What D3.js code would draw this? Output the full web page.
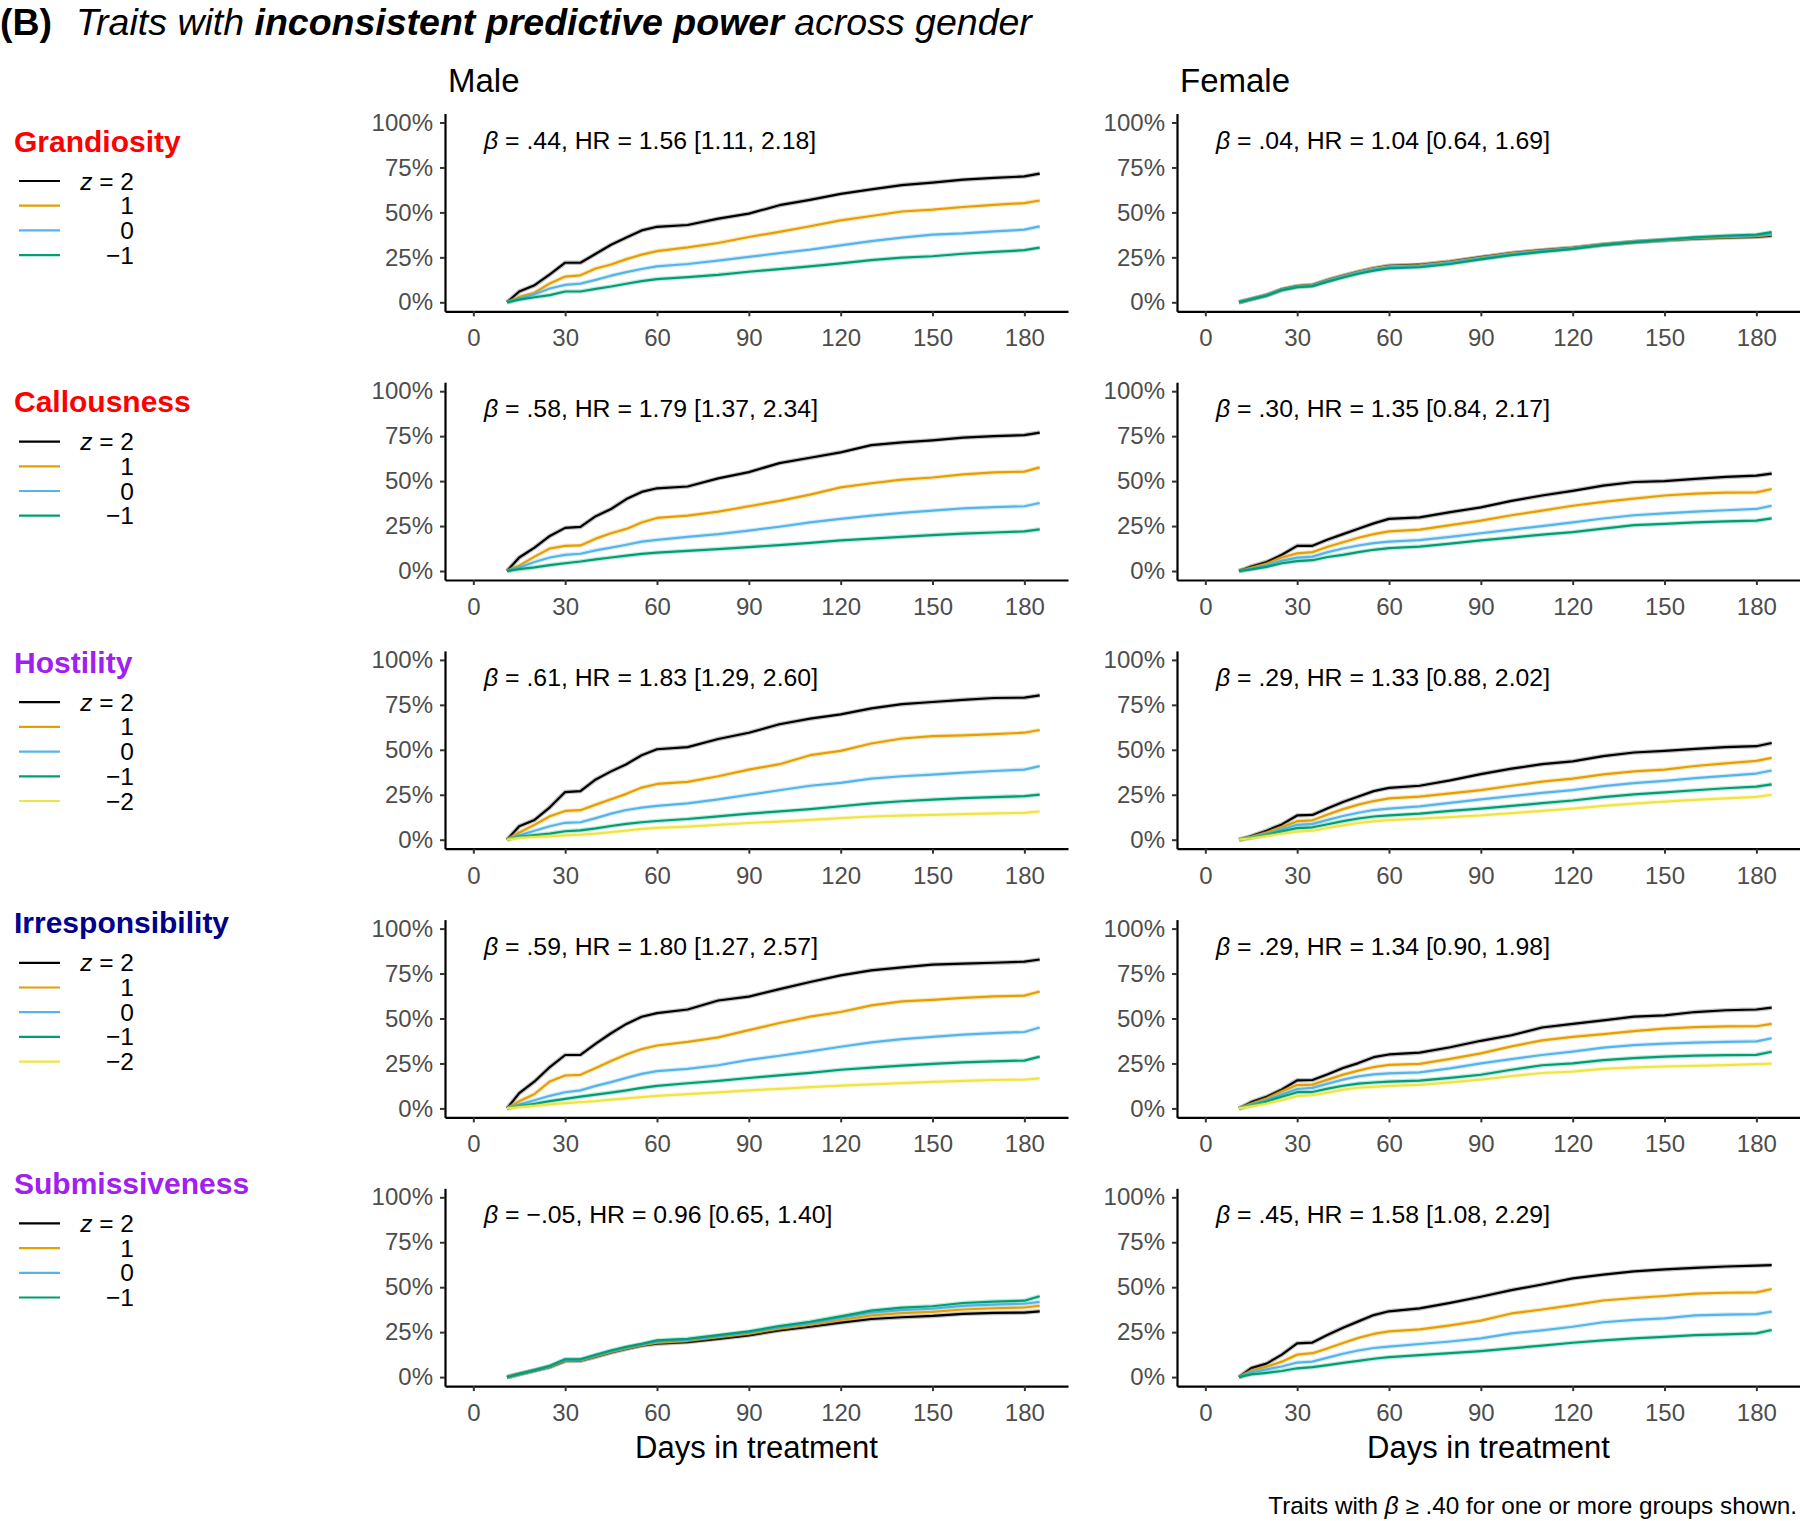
<!DOCTYPE html>
<html><head><meta charset="utf-8">
<script src="https://cdn.jsdelivr.net/npm/d3@7"></script>
<style>
body{margin:0;background:#fff;}
svg text{font-family:"Liberation Sans",Arial,Helvetica,sans-serif;}
</style></head>
<body><svg id="chart" width="1800" height="1521"></svg>
<script>
// ---------- DATA ----------
const DAYS = [11,15,20,25,30,35,40,45,50,55,60,70,80,90,100,110,120,130,140,150,160,170,180,185];
const TRAITS = ["Grandiosity","Callousness","Hostility","Irresponsibility","Submissiveness"];
const TRAIT_COLORS = ["#FF0000","#FF0000","#A020F0","#00008B","#A020F0"];
const GENDERS = ["Male","Female"];
const Z_LABELS = ["2","1","0","\u22121","\u22122"];
const Z_COLORS = ["#000000","#E69F00","#56B4E9","#009E73","#F0E442"];
const X_TICKS = [0,30,60,90,120,150,180];
const Y_TICKS = [0,0.25,0.5,0.75,1];

const BETA_MALE = [".44",".58",".61",".59","\u2212.05"];
const HR_MALE = ["1.56 [1.11, 2.18]","1.79 [1.37, 2.34]","1.83 [1.29, 2.60]","1.80 [1.27, 2.57]","0.96 [0.65, 1.40]"];
const BETA_FEMALE = [".04",".30",".29",".29",".45"];
const HR_FEMALE = ["1.04 [0.64, 1.69]","1.35 [0.84, 2.17]","1.33 [0.88, 2.02]","1.34 [0.90, 1.98]","1.58 [1.08, 2.29]"];

// cumulative incidence (%) at DAYS, one array per trait x gender x z level
const GRAND_M_Z2  = [0,6,9.5,15.5,22,22,27,32,36,40,42,43,46.5,49.3,54,57,60.3,62.8,65.2,66.6,68.2,69.2,70,71.6];
const GRAND_M_Z1  = [0,3,5.3,10.5,14.3,15,18.8,21,24,26.5,28.5,30.5,33,36.3,39.2,42.3,45.6,48,50.5,51.5,53,54.2,55.2,56.6];
const GRAND_M_Z0  = [0,2,4.5,7.7,9.7,10.4,12.5,14.8,16.8,18.5,20,21.3,23.2,25.3,27.3,29.3,31.7,34,36,37.6,38.3,39.4,40.4,42.2];
const GRAND_M_ZN1 = [0,1.5,2.8,4,6,6,7.5,8.8,10.3,11.8,12.9,14,15.3,17,18.5,20,21.6,23.5,24.8,25.6,27,28,29,30.4];
const GRAND_F_Z2  = [0,1.8,4,7.2,9,9.6,12.4,14.8,17,18.9,20.3,20.9,22.7,25.1,27.4,29,30.3,32.1,33.5,34.5,35.4,36,36.4,37];
const GRAND_F_Z1  = [0,1.8,4,7.1,8.9,9.5,12.2,14.6,16.8,18.7,20,20.6,22.4,24.8,27.2,28.8,30.2,32.1,33.5,34.6,35.7,36.3,36.8,37.6];
const GRAND_F_Z0  = [0,1.8,3.9,7,8.7,9.3,12,14.3,16.5,18.3,19.6,20.2,22,24.5,26.8,28.5,30,32,33.5,34.7,35.9,36.7,37.2,38.2];
const GRAND_F_ZN1 = [0,1.7,3.7,6.8,8.4,9,11.5,13.8,15.9,17.6,18.9,19.5,21.3,23.9,26.2,28,29.7,31.9,33.5,34.8,36.1,37,37.6,39];

const CALL_M_Z2  = [0,7.5,13,19.5,24,24.5,30.5,34.5,40,44,46,47,51.5,55,60,63,66,70,71.5,72.7,74.2,75,75.6,77];
const CALL_M_Z1  = [0,3,8,12.5,14,14.2,18,21,23.4,27,29.5,30.8,33,36,39,42.5,46.5,48.8,50.8,52,53.7,54.8,55.3,57.6];
const CALL_M_Z0  = [0,2,5,7.5,9,9.6,11.5,13,14.6,16.3,17.3,19,20.5,22.5,24.6,27,29,30.8,32.3,33.6,34.8,35.5,36,37.8];
const CALL_M_ZN1 = [0,1,2,3.3,4.3,5.3,6.5,7.5,8.5,9.5,10.2,11.2,12.2,13.3,14.4,15.6,17,18,19,20,20.8,21.4,22,23.2];
const CALL_F_Z2  = [0,2.5,5,9,14,14,17.5,20.5,23.5,26.5,29,29.8,32.7,35.4,39,42,44.6,47.5,49.5,50,51.2,52.3,53,54.2];
const CALL_F_Z1  = [0,1.8,4,7.5,9.8,10.5,13.5,16,18.5,20.5,22,23,25.5,28,31,33.6,36.3,38.4,40.3,42,43,43.6,43.7,45.6];
const CALL_F_Z0  = [0,1.2,3,5.8,7.4,8,10.5,12.5,14.2,15.5,16.3,17.2,19,21,23,25,27,29.2,31,32,33,33.8,34.5,36.3];
const CALL_F_ZN1 = [0,0.9,2.3,4.3,5.5,6,7.8,9,10.5,11.8,12.7,13.6,15.2,17,18.6,20.2,21.6,23.6,25.5,26.2,27,27.6,28,29.3];

const HOST_M_Z2  = [0,7.5,11,18,26.5,27,33.5,38,42,47,50.3,51.5,56,59.5,64.2,67.3,69.7,73,75.4,76.6,77.8,78.8,79,80.3];
const HOST_M_Z1  = [0,4,8.3,13,16,16.4,19.5,22.5,25.5,29,31,32.2,35.3,39,42,47,49.4,53.5,56.3,57.6,58,58.7,59.5,61];
const HOST_M_Z0  = [0,2.5,5,7.5,9.4,9.7,12,14.5,16.5,17.8,18.8,20.2,22.4,25,27.5,30,31.6,34,35.3,36.2,37.3,38.2,39,40.9];
const HOST_M_ZN1 = [0,1.7,2.5,3.4,4.7,5.2,6.3,7.6,8.8,9.7,10.4,11.5,13,14.5,15.7,17,18.6,20.2,21.4,22.3,23.1,23.7,24.2,25.1];
const HOST_M_ZN2 = [0,1,1.5,1.9,2.4,2.8,3.4,4.2,5,6,6.6,7.3,8.3,9.3,10.1,11,12,12.9,13.4,13.8,14.2,14.6,14.9,15.8];
const HOST_F_Z2  = [0,2,5,8.5,13.5,13.8,17.5,21,24,27,28.8,30,33,36.5,39.5,42,43.6,46.5,48.5,49.4,50.5,51.5,52,53.8];
const HOST_F_Z1  = [0,1.6,4,7,10.3,10.8,14,17,19.5,21.5,23,24,25.8,27.6,30,32.3,34,36.3,38,39,41,42.5,43.8,45.5];
const HOST_F_Z0  = [0,1.3,3.2,5.8,8.3,8.8,11,13.2,15,16.5,17.3,18.5,20.5,22.4,24.2,26,27.6,29.8,31.5,32.7,34.2,35.5,36.8,38.5];
const HOST_F_ZN1 = [0,1,2.6,4.6,6.4,6.9,8.6,10.3,11.8,12.9,13.5,14.5,16,17.3,18.8,20.3,21.8,23.7,25.2,26.3,27.5,28.6,29.5,30.8];
const HOST_F_ZN2 = [0,0.8,2,3.3,4.5,5,6.5,8,9.3,10.2,10.9,11.7,12.6,13.5,14.8,16,17.3,18.8,20.1,21.2,22.2,23,23.8,25];

const IRR_M_Z2  = [0,8.5,15,23,29.7,29.8,36,41.8,47,51,53,55,60,62.2,66.3,70.3,74,76.8,78.4,80,80.5,81,81.6,82.8];
const IRR_M_Z1  = [0,4,8,15,18.3,18.7,22.5,26.4,30,33,35,37,39.5,43.5,47.5,51,53.6,57.3,59.5,60.4,61.5,62.3,62.7,65];
const IRR_M_Z0  = [0,2.2,4.5,7,9,10,12.5,14.6,17,19.2,20.7,22,24,27,29.3,31.7,34.3,36.7,38.5,39.8,41,41.9,42.5,45];
const IRR_M_ZN1 = [0,1.3,2.5,4,5.3,6.5,7.7,8.8,10,11.4,12.5,14,15.3,16.9,18.4,19.8,21.5,22.7,23.8,24.8,25.6,26.2,26.6,28.8];
const IRR_M_ZN2 = [0,0.7,1.4,2.2,2.9,3.5,4.1,4.9,5.6,6.3,7,7.9,8.9,10,10.9,11.8,12.7,13.4,14.1,14.7,15.3,15.8,16,16.7];
const IRR_F_Z2  = [0,3.5,6.5,10.5,15.6,15.8,19,22.5,25.2,28.5,30,31,34,37.6,40.7,45,47,49,51,51.7,53.6,54.6,55,56];
const IRR_F_Z1  = [0,2.5,5.5,9.5,13,13.2,16,18.8,21,23,24.2,24.8,27.5,30.6,34.5,37.8,39.8,41.3,43,44.4,45.2,45.6,45.7,47];
const IRR_F_Z0  = [0,2,4.5,7.8,10.8,11.4,13.8,16,17.8,18.9,19.5,20,22.3,25,27.4,29.7,31.6,33.8,35.2,36,36.6,37,37.3,39];
const IRR_F_ZN1 = [0,1.6,3.8,6.5,9,9.1,11,12.6,13.8,14.4,14.9,15.5,17,18.7,21.5,24,25,26.8,28,28.8,29.3,29.6,29.8,31.5];
const IRR_F_ZN2 = [0,1.1,2.6,4.6,6.8,7.3,8.8,10.4,11.5,12,12.5,13.1,14.5,16,18,19.7,20.5,22,22.8,23.3,23.7,24.1,24.6,24.9];

const SUB_M_Z2  = [0,1.6,3.6,5.6,9,9.1,11.3,13.7,15.7,17.5,18.6,19.5,21.3,23.2,26,28,30.3,32.3,33.3,34,35.2,35.7,35.9,36.6];
const SUB_M_Z1  = [0,1.7,3.7,5.8,9.2,9.3,11.6,14,16,17.8,19.2,20.2,22.2,24.2,27,29.2,31.8,34.3,35.6,36.3,37.6,38.3,38.7,39.7];
const SUB_M_Z0  = [0,1.7,3.8,6,9.6,9.6,12,14.4,16.4,18.2,19.8,20.7,22.8,25,27.8,30,33,35.8,37.2,38,39.6,40.3,40.8,41.8];
const SUB_M_ZN1 = [0,1.8,3.9,6.2,9.9,9.9,12.4,14.8,16.8,18.5,20.4,21.3,23.3,25.4,28.4,30.8,33.8,37,38.6,39.4,41.2,42,42.5,45];
const SUB_F_Z2  = [0,5,7.5,12.5,18.8,19.2,23.5,27.5,31,34.5,36.6,38.2,41.3,44.7,48.4,51.5,54.9,57,58.8,59.9,60.8,61.5,62,62.3];
const SUB_F_Z1  = [0,3.5,5.8,8.6,12.5,13.3,16,19,21.8,24,25.4,26.5,28.8,31.4,35.4,37.6,40,42.6,44,45.1,46.4,46.9,47.1,49];
const SUB_F_Z0  = [0,2.7,4.3,5.9,8.1,8.6,10.8,13,14.8,16.2,17,18.4,19.8,21.5,24.3,26,28,30.5,31.8,32.7,34.3,34.8,35,36.4];
const SUB_F_ZN1 = [0,1.5,2.4,3.4,4.9,5.5,6.7,7.9,9,10.2,11.1,12.2,13.3,14.5,16,17.5,19.1,20.4,21.5,22.4,23.3,23.8,24.3,26.2];

// panel table built from the arrays: [row][gender] -> list of series (z = 2, 1, 0, -1, -2)
const PANELS = [
  [[GRAND_M_Z2,GRAND_M_Z1,GRAND_M_Z0,GRAND_M_ZN1],[GRAND_F_Z2,GRAND_F_Z1,GRAND_F_Z0,GRAND_F_ZN1]],
  [[CALL_M_Z2,CALL_M_Z1,CALL_M_Z0,CALL_M_ZN1],[CALL_F_Z2,CALL_F_Z1,CALL_F_Z0,CALL_F_ZN1]],
  [[HOST_M_Z2,HOST_M_Z1,HOST_M_Z0,HOST_M_ZN1,HOST_M_ZN2],[HOST_F_Z2,HOST_F_Z1,HOST_F_Z0,HOST_F_ZN1,HOST_F_ZN2]],
  [[IRR_M_Z2,IRR_M_Z1,IRR_M_Z0,IRR_M_ZN1,IRR_M_ZN2],[IRR_F_Z2,IRR_F_Z1,IRR_F_Z0,IRR_F_ZN1,IRR_F_ZN2]],
  [[SUB_M_Z2,SUB_M_Z1,SUB_M_Z0,SUB_M_ZN1],[SUB_F_Z2,SUB_F_Z1,SUB_F_Z0,SUB_F_ZN1]]
];

// ---------- LAYOUT ----------
const svg = d3.select("#chart");
const PANEL_LEFT = [445, 1177];
const PANEL_W = 623;
const ROW_ZERO0 = 302.3, ROW_STEP = 268.7, PCT_H = 179.8;
const TICK_FONT = 24;

// Title
const title = svg.append("text").attr("x",0).attr("y",35).attr("font-size",37.5).attr("fill","#000");
title.append("tspan").attr("font-weight","bold").text("(B)");
title.append("tspan").attr("x",76).attr("font-style","italic").text("Traits with ");
title.append("tspan").attr("font-style","italic").attr("font-weight","bold").text("inconsistent predictive power");
title.append("tspan").attr("font-style","italic").text(" across gender");

// column headers
GENDERS.forEach((g,gi)=>{
  svg.append("text").attr("x",PANEL_LEFT[gi]+3).attr("y",92).attr("font-size",33).attr("fill","#000").text(g);
});

const line = d3.line().curve(d3.curveLinear);

TRAITS.forEach((trait,ri)=>{
  const zeroY = ROW_ZERO0 + ri*ROW_STEP;
  const y = d3.scaleLinear().domain([-0.05,1.05]).range([zeroY+0.05*PCT_H, zeroY-1.05*PCT_H]);

  // legend
  const ly = 141 + ri*260.6;
  svg.append("text").attr("x",14).attr("y",ly+10.5).attr("font-size",30).attr("font-weight","bold")
     .attr("fill",TRAIT_COLORS[ri]).text(trait);
  PANELS[ri][0].forEach((s,si)=>{
    const iy = ly + 40 + si*24.7;
    svg.append("line").attr("x1",19).attr("x2",60).attr("y1",iy).attr("y2",iy)
       .attr("stroke",Z_COLORS[si]).attr("stroke-width",2.2);
    const t = svg.append("text").attr("x",134).attr("y",iy+8.5).attr("text-anchor","end")
       .attr("font-size",24.5).attr("fill","#000");
    if(si===0){ t.append("tspan").attr("font-style","italic").text("z"); t.append("tspan").text(" = "+Z_LABELS[si]); }
    else t.text(Z_LABELS[si]);
  });

  GENDERS.forEach((g,gi)=>{
    const x = d3.scaleLinear().domain([-9.25,194.25]).range([PANEL_LEFT[gi], PANEL_LEFT[gi]+PANEL_W]);
    const gp = svg.append("g");

    // y axis
    const ya = gp.append("g").attr("transform",`translate(${PANEL_LEFT[gi]},0)`)
      .call(d3.axisLeft(y).tickValues(Y_TICKS).tickFormat(d3.format(".0%")).tickSize(5).tickPadding(7).tickSizeOuter(0));
    // x axis
    const xa = gp.append("g").attr("transform",`translate(0,${y(-0.05)})`)
      .call(d3.axisBottom(x).tickValues(X_TICKS).tickSize(5).tickPadding(13).tickSizeOuter(0));
    [ya,xa].forEach(a=>{
      a.select(".domain").attr("stroke","#000").attr("stroke-width",2.2);
      a.selectAll(".tick line").attr("stroke","#333").attr("stroke-width",2);
      a.selectAll(".tick text").attr("font-size",TICK_FONT).attr("fill","#4D4D4D")
        .attr("font-family","'Liberation Sans',Arial,sans-serif");
    });

    // curves
    const series = PANELS[ri][gi];
    series.forEach((vals,si)=>{
      const pts = DAYS.map((d,i)=>[x(d), y(vals[i]/100)]);
      gp.append("path").attr("d",line(pts)).attr("fill","none")
        .attr("stroke",Z_COLORS[si]).attr("stroke-opacity",0.25).attr("stroke-width",4.5);
      gp.append("path").attr("d",line(pts)).attr("fill","none")
        .attr("stroke",Z_COLORS[si]).attr("stroke-width",2.2).attr("stroke-linejoin","round");
    });

    // annotation
    const beta = gi===0 ? BETA_MALE[ri] : BETA_FEMALE[ri];
    const hr = gi===0 ? HR_MALE[ri] : HR_FEMALE[ri];
    const at = gp.append("text").attr("x",x(3.5)).attr("y",y(1)+26).attr("font-size",24.8).attr("fill","#000");
    at.append("tspan").attr("font-style","italic").text("\u03B2");
    at.append("tspan").text(" = "+beta+", HR = "+hr);

    // x-axis title on last row
    if(ri===TRAITS.length-1){
      svg.append("text").attr("x",PANEL_LEFT[gi]+PANEL_W/2).attr("y",zeroY+81).attr("text-anchor","middle")
        .attr("font-size",31).attr("fill","#000").text("Days in treatment");
    }
  });
});

// footnote
const fn = svg.append("text").attr("x",1797).attr("y",1514).attr("text-anchor","end").attr("font-size",24.3).attr("fill","#000");
fn.append("tspan").text("Traits with ");
fn.append("tspan").attr("font-style","italic").text("\u03B2");
fn.append("tspan").text(" \u2265 .40 for one or more groups shown.");
</script></body></html>
